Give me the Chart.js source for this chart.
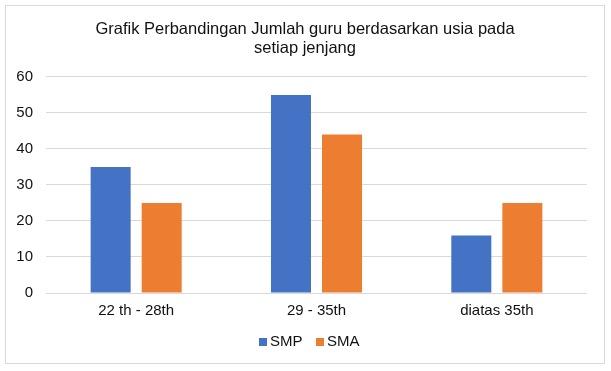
<!DOCTYPE html>
<html>
<head>
<meta charset="utf-8">
<script src="https://cdn.jsdelivr.net/npm/chart.js@4"></script>
<style>
html,body{margin:0;padding:0;background:#fff;}
#wrap{position:absolute;left:0;top:0;width:611px;height:371px;}
</style>
</head>
<body>
<div id="wrap"><canvas id="c" width="611" height="371"></canvas></div>
<script>
const categories = ["22 th - 28th", "29 - 35th", "diatas 35th"];
const smp = [35, 55, 16];
const sma = [25, 44, 25];
const seriesNames = ["SMP", "SMA"];
const seriesColors = ["#4472C4", "#ED7D31"];
const titleLines = ["Grafik Perbandingan Jumlah guru berdasarkan usia pada", "setiap jenjang"];

const FONT = "'Liberation Sans', Arial, sans-serif";

// legend marker: 8px square placed at the right end of a 21px-wide image
function marker(color) {
  const c = document.createElement('canvas');
  c.width = 21; c.height = 8;
  const g = c.getContext('2d');
  g.fillStyle = color;
  g.fillRect(13, 0, 8, 8);
  return c;
}

const borderPlugin = {
  id: 'outerBorder',
  beforeDraw(chart) {
    const ctx = chart.ctx;
    ctx.save();
    ctx.fillStyle = '#fff';
    ctx.fillRect(0, 0, chart.width, chart.height);
    ctx.strokeStyle = '#d9d9d9';
    ctx.lineWidth = 1;
    ctx.strokeRect(5.5, 5.5, 599, 358);
    ctx.restore();
  }
};

new Chart(document.getElementById('c'), {
  type: 'bar',
  data: {
    labels: categories,
    datasets: [
      { label: seriesNames[0], data: smp, backgroundColor: seriesColors[0], pointStyle: marker(seriesColors[0]), categoryPercentage: 0.566, barPercentage: 0.784 },
      { label: seriesNames[1], data: sma, backgroundColor: seriesColors[1], pointStyle: marker(seriesColors[1]), categoryPercentage: 0.566, barPercentage: 0.784 }
    ]
  },
  options: {
    responsive: false,
    animation: false,
    devicePixelRatio: 1,
    layout: { padding: { left: 0, right: 1, top: 12, bottom: 12 } },
    plugins: {
      title: {
        display: true,
        text: titleLines,
        color: '#111',
        font: { family: FONT, size: 16.5, weight: 'normal', lineHeight: 1.15 },
        padding: { top: 8, bottom: 19 }
      },
      legend: {
        display: true,
        position: 'bottom',
        labels: {
          color: '#111',
          font: { family: FONT, size: 15 },
          usePointStyle: true,
          pointStyleWidth: 12,
          boxHeight: 8,
          padding: 5
        }
      },
      tooltip: { enabled: false }
    },
    scales: {
      x: {
        grid: { display: false, drawTicks: false },
        border: { display: false },
        ticks: { color: '#111', font: { family: FONT, size: 15 }, padding: 9 }
      },
      y: {
        min: 0, max: 60,
        afterFit(s) { s.width = 46; },
        grid: { color: '#d9d9d9', drawTicks: false },
        border: { display: false },
        ticks: { stepSize: 10, color: '#111', font: { family: FONT, size: 15 }, padding: 13 }
      },
      yRightSpace: {
        position: 'right',
        display: true,
        afterFit(s) { s.width = 23; },
        grid: { display: false, drawTicks: false },
        border: { display: false },
        ticks: { display: false }
      }
    }
  },
  plugins: [borderPlugin]
});
</script>
</body>
</html>
